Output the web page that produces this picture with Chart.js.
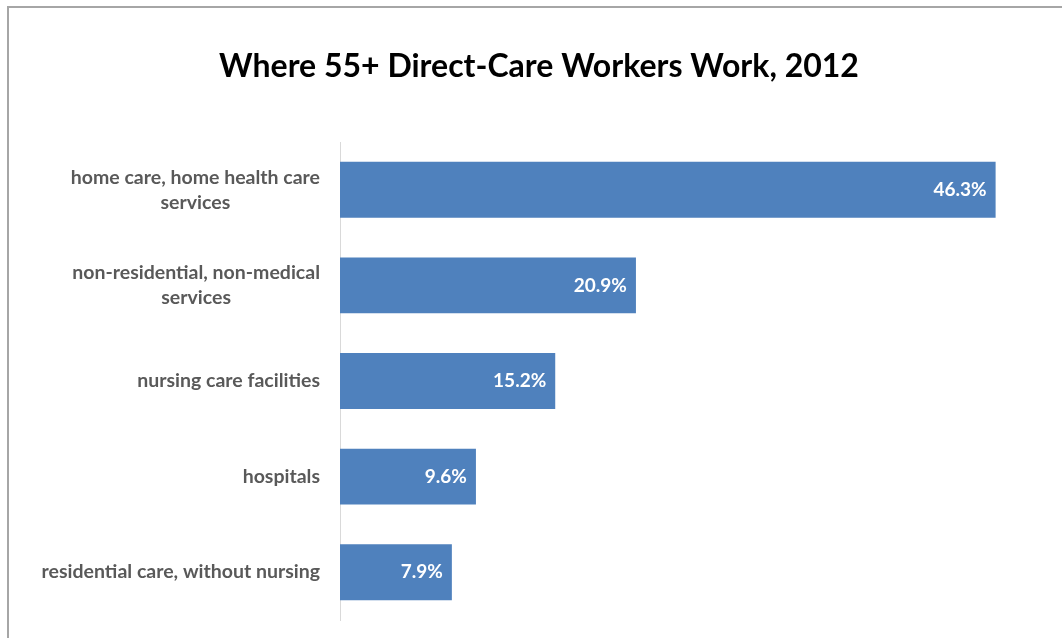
<!DOCTYPE html>
<html>
<head>
<meta charset="utf-8">
<script src="https://cdn.jsdelivr.net/npm/chart.js@4"></script>
<style>
  html, body { margin: 0; padding: 0; background: #fff; overflow: hidden; }
  #frame {
    position: absolute; left: 7px; top: 6px; width: 1100px; height: 700px;
    border-top: 2px solid #a6a6a6; border-left: 2px solid #a6a6a6;
  }
  #wrap { position: absolute; left: 0; top: 0; width: 1062px; height: 638px; }
</style>
</head>
<body>
<div id="frame"></div>
<div id="wrap"><canvas id="grafico"></canvas></div>
<script>
const categorias = [
    ['home care, home health care', 'services'],
    ['non-residential, non-medical', 'services'],
    ['nursing care facilities'],
    ['hospitals'],
    ['residential care, without nursing']
];
const percentuais = [46.3, 20.9, 15.2, 9.6, 7.9];
const titulo = 'Where 55+ Direct-Care Workers Work, 2012';

const fonte = 'Lato, "Open Sans", sans-serif';

// rótulos das categorias, alinhados à direita em bloco e centralizados linha a linha
const rotulosCategorias = {
    id: 'rotulosCategorias',
    afterDraw(chart) {
        const ctx = chart.ctx;
        const escalaY = chart.scales.y;
        const xDireita = 320;
        const alturaLinha = 25;
        ctx.save();
        ctx.font = 'bold 19.5px ' + fonte;
        ctx.fillStyle = '#595959';
        ctx.textAlign = 'center';
        ctx.textBaseline = 'middle';
        chart.data.labels.forEach((linhas, i) => {
            const yc = escalaY.getPixelForValue(i);
            const largura = Math.max(...linhas.map(l => ctx.measureText(l).width));
            const xc = xDireita - largura / 2;
            const y0 = yc - (linhas.length - 1) * alturaLinha / 2;
            linhas.forEach((l, j) => ctx.fillText(l, xc, y0 + j * alturaLinha));
        });
        ctx.restore();
    }
};

// valores dentro das barras
const rotulosValores = {
    id: 'rotulosValores',
    afterDatasetsDraw(chart) {
        const ctx = chart.ctx;
        const meta = chart.getDatasetMeta(0);
        ctx.save();
        ctx.font = 'bold 19px ' + fonte;
        ctx.fillStyle = '#ffffff';
        ctx.textAlign = 'right';
        ctx.textBaseline = 'middle';
        meta.data.forEach((barra, i) => {
            ctx.fillText(percentuais[i].toFixed(1) + '%', barra.x - 9, barra.y);
        });
        ctx.restore();
    }
};

const ctx = document.getElementById('grafico').getContext('2d');
const grafico = new Chart(ctx, {
    type: 'bar',
    data: {
        labels: categorias,
        datasets: [{
            data: percentuais,
            backgroundColor: '#4f81bd',
            borderWidth: 0,
            categoryPercentage: 1,
            barPercentage: 0.585
        }]
    },
    options: {
        indexAxis: 'y',
        responsive: true,
        maintainAspectRatio: false,
        animation: false,
        layout: { padding: { left: 30, right: 14, top: 0, bottom: 18 } },
        plugins: {
            legend: { display: false },
            tooltip: { enabled: false },
            title: {
                display: true,
                text: titulo,
                color: '#000000',
                font: { family: fonte, size: 32, weight: 'bold', lineHeight: 1.2 },
                padding: { top: 47, bottom: 56.6 }
            }
        },
        scales: {
            x: { display: false, min: 0, max: 50 },
            y: {
                grid: { display: false },
                ticks: { display: false },
                border: { display: true, color: '#d9d9d9', width: 1 },
                afterFit(escala) { escala.width = 310; }
            }
        }
    },
    plugins: [rotulosCategorias, rotulosValores]
});
</script>
</body>
</html>
